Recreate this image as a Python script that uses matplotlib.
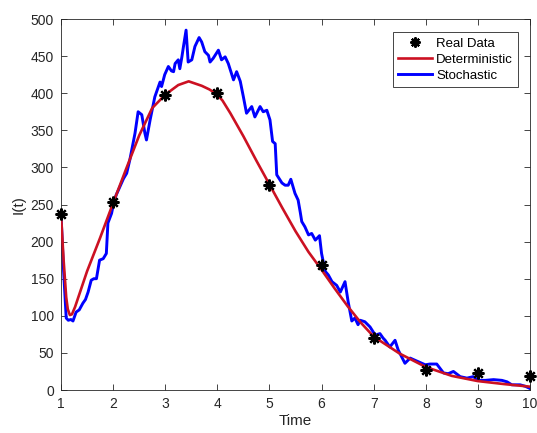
import matplotlib
matplotlib.use("Agg")
import matplotlib.pyplot as plt

# datos reais (estrelas)
t_real = [1, 2, 3, 4, 5, 6, 7, 8, 9, 10]
i_real = [237, 253, 397, 400, 276, 168, 70, 27, 23, 19]

# curva deterministica
t_det = [1.0, 1.05, 1.1, 1.13, 1.17, 1.21, 1.27, 1.5, 1.75, 2.0, 2.25, 2.5, 2.75,
         3.0, 3.25, 3.45, 3.7, 3.85, 4.0, 4.1, 4.25, 4.5, 4.75, 5.0, 5.25, 5.5,
         5.75, 6.0, 6.25, 6.5, 6.75, 7.0, 7.5, 8.0, 8.5, 9.0, 9.5, 10.0]
i_det = [237, 175, 125, 109, 101, 102, 112, 160, 205, 252, 298, 343, 380,
         398, 411, 416, 410, 405, 398, 390, 373, 342, 309, 277, 245, 214,
         186, 162, 137, 113, 91, 72, 49, 31, 19, 12, 8, 4.5]

# curva estocastica
t_sto = [1.00, 1.05, 1.10, 1.14, 1.19, 1.23, 1.29, 1.35, 1.42, 1.47, 1.52, 1.58,
         1.63, 1.68, 1.74, 1.81, 1.87, 1.90, 1.97, 2.02, 2.06, 2.13, 2.20, 2.26,
         2.32, 2.42, 2.48, 2.55, 2.61, 2.64, 2.71, 2.80, 2.90, 2.93, 2.99, 3.06,
         3.12, 3.16, 3.19, 3.25, 3.28, 3.32, 3.35, 3.40, 3.44, 3.51, 3.57, 3.65,
         3.70, 3.76, 3.83, 3.86, 3.92, 4.02, 4.08, 4.15, 4.21, 4.31, 4.37, 4.44,
         4.50, 4.56, 4.66, 4.72, 4.82, 4.88, 4.95, 5.01, 5.06, 5.11, 5.14, 5.24,
         5.30, 5.36, 5.41, 5.49, 5.55, 5.59, 5.62, 5.68, 5.75, 5.81, 5.88, 5.96,
         6.00, 6.07, 6.13, 6.20, 6.29, 6.36, 6.45, 6.51, 6.58, 6.64, 6.70, 6.74,
         6.83, 6.93, 7.03, 7.12, 7.18, 7.22, 7.31, 7.41, 7.47, 7.60, 7.70, 7.86,
         7.99, 8.08, 8.21, 8.34, 8.43, 8.53, 8.66, 8.79, 8.91, 9.01, 9.14, 9.30,
         9.46, 9.56, 9.65, 9.81, 9.91, 10.0]
i_sto = [237, 160, 97, 94, 95, 93, 105, 108, 117, 122, 132, 148,
         150, 150, 175, 177, 184, 225, 238, 255, 263, 274, 285, 292,
         310, 346, 375, 371, 346, 337, 364, 395, 415, 409, 425, 436,
         430, 429, 440, 445, 433, 449, 463, 485, 442, 445, 463, 475,
         469, 456, 451, 442, 447, 458, 445, 449, 440, 418, 429, 416,
         395, 373, 382, 368, 382, 375, 377, 364, 335, 332, 290, 279,
         276, 276, 284, 265, 256, 240, 227, 220, 209, 211, 202, 208,
         184, 160, 155, 146, 141, 132, 146, 119, 93, 97, 88, 94,
         92, 85, 74, 76, 70, 67, 58, 67, 54, 36, 43, 38,
         34, 35, 35, 23, 22, 25, 18, 16, 18, 13, 13, 14,
         13, 11, 7, 7, 5, 2]

plt.rcParams['font.family'] = ['Liberation Sans', 'DejaVu Sans']

fig = plt.figure(figsize=(5.37, 4.33), dpi=100)
ax = fig.add_axes([0.1136, 0.0993, 0.8734, 0.8568])

ax.plot(t_real, i_real, linestyle='none', marker=(8, 2, 0), markersize=8.5,
        markeredgewidth=1.6, color='black', label='Real Data', zorder=4,
        clip_on=False)
ax.plot(t_det, i_det, color='#cc1122', linewidth=1.9, label='Deterministic', zorder=3)
ax.plot(t_sto, i_sto, color='#0000ff', linewidth=2.1, label='Stochastic', zorder=2)

ax.set_xlim(1, 10)
ax.set_ylim(0, 500)
ax.set_xticks(range(1, 11))
ax.set_yticks(range(0, 501, 50))
ax.tick_params(direction='in', top=True, right=True, length=4, width=0.6,
               labelsize=10, colors='#262626', pad=5)
for s in ax.spines.values():
    s.set_linewidth(0.6)
    s.set_color('#262626')

ax.set_xlabel('Time', fontsize=11, color='#262626', labelpad=2)
ax.set_ylabel('I(t)', fontsize=11, color='#262626', labelpad=4)

leg = ax.legend(loc='upper right', bbox_to_anchor=(0.975, 0.965), fontsize=9.5,
                fancybox=False, framealpha=1, edgecolor='#262626',
                handlelength=2.6, handletextpad=0.3, borderpad=0.4,
                labelspacing=0.3, borderaxespad=0, markerscale=0.85)
leg.get_frame().set_linewidth(0.6)

fig.savefig('out.png', dpi=100)
